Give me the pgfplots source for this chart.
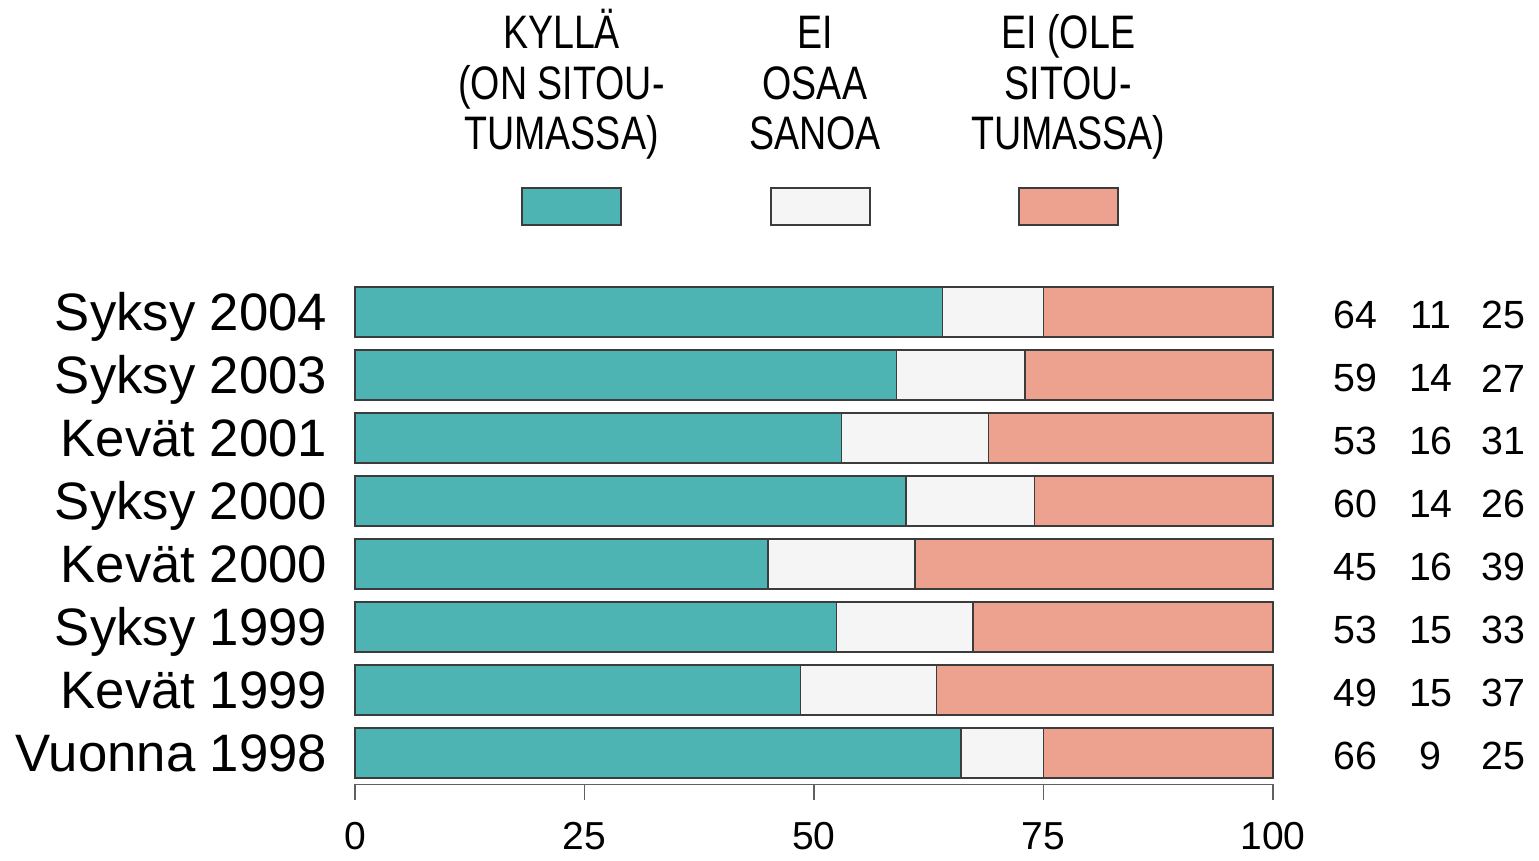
\documentclass[border=0pt]{standalone}
\usepackage{pgfplots}
\pgfplotsset{compat=1.18}
\usepackage{pgfplotstable}
\usepackage{fontspec}
\setmainfont{Liberation Sans}
\newfontfamily\narrowfont[FakeStretch=0.8]{Liberation Sans}

\definecolor{kylla}{HTML}{4DB3B3}
\definecolor{eos}{HTML}{F5F5F5}
\definecolor{eiole}{HTML}{ECA28F}
\definecolor{edge}{HTML}{3C3C3C}
\definecolor{axisgray}{HTML}{606060}

% y: row (0 = bottom), k = kyllä, e = ei osaa sanoa, n = ei (ole sitoutumassa)
\pgfplotstableread{
y k e n
7 64 11 25
6 59 14 27
5 53 16 31
4 60 14 26
3 45 16 39
2 53 15 33
1 49 15 37
0 66 9 25
}\kannat

\newcommand{\legline}[3]{\node[font=\narrowfont\fontsize{14.1}{15}\selectfont,
  anchor=base, inner sep=0pt] at (axis cs:#1,#2) {#3};}

\begin{document}
\begin{tikzpicture}
\begin{axis}[
scale only axis, width=275.4pt, height=150.255pt,
xmin=0, xmax=100, ymin=-0.5, ymax=7.45,
xbar stacked, bar width=0.79,
axis lines*=left, y axis line style={draw=none},
x axis line style={color=axisgray, line width=0.45pt},
xtick={0,25,50,75,100}, ytick={0,...,7},
yticklabels={Vuonna 1998,Kevät 1999,Syksy 1999,Kevät 2000,Syksy 2000,Kevät 2001,Syksy 2003,Syksy 2004},
tick align=outside, major tick length=4.8pt,
xtick style={color=axisgray, line width=0.45pt},
ytick style={draw=none},
xticklabel style={font=\fontsize{11.7}{14}\selectfont, yshift=-3pt},
yticklabel style={font=\fontsize{15.8}{18}\selectfont, anchor=base east, yshift=-5.6pt},
/pgf/number format/assume math mode=true,
clip=false,
]
\addplot[fill=kylla, draw=edge, line width=0.45pt] table[y=y, x expr=\thisrow{k}*100/(\thisrow{k}+\thisrow{e}+\thisrow{n})]{\kannat};
\addplot[fill=eos, draw=edge, line width=0.45pt] table[y=y, x expr=\thisrow{e}*100/(\thisrow{k}+\thisrow{e}+\thisrow{n})]{\kannat};
\addplot[fill=eiole, draw=edge, line width=0.45pt] table[y=y, x expr=\thisrow{n}*100/(\thisrow{k}+\thisrow{e}+\thisrow{n})]{\kannat};

% legend
\draw[fill=kylla, draw=edge, line width=0.45pt] (axis cs:18.19,8.381) rectangle (axis cs:28.98,8.968);
\draw[fill=eos, draw=edge, line width=0.45pt] (axis cs:45.32,8.381) rectangle (axis cs:56.10,8.968);
\draw[fill=eiole, draw=edge, line width=0.45pt] (axis cs:72.33,8.381) rectangle (axis cs:83.12,8.968);
\legline{22.5}{11.175}{KYLLÄ}
\legline{22.5}{10.365}{(ON SITOU-}
\legline{22.5}{9.571}{TUMASSA)}
\legline{50.1}{11.175}{EI}
\legline{50.1}{10.365}{OSAA}
\legline{50.1}{9.571}{SANOA}
\legline{77.7}{11.175}{EI (OLE}
\legline{77.7}{10.365}{SITOU-}
\legline{77.7}{9.571}{TUMASSA)}

\path (axis cs:-38.67,-1.603) rectangle (axis cs:128.98,11.952);
\end{axis}

\begin{axis}[
scale only axis, width=275.4pt, height=150.255pt,
xmin=0, xmax=100, ymin=-0.5, ymax=7.45,
hide axis, clip=false,
nodes near coords, point meta=explicit symbolic,
nodes near coords align=center,
every node near coord/.append style={font=\fontsize{11.8}{14}\selectfont, inner sep=0pt, yshift=-1pt},
]
\addplot[draw=none] table[x expr=109.0, y=y, meta=k]{\kannat};
\addplot[draw=none] table[x expr=117.2, y=y, meta=e]{\kannat};
\addplot[draw=none] table[x expr=125.1, y=y, meta=n]{\kannat};
\end{axis}
\end{tikzpicture}
\end{document}
